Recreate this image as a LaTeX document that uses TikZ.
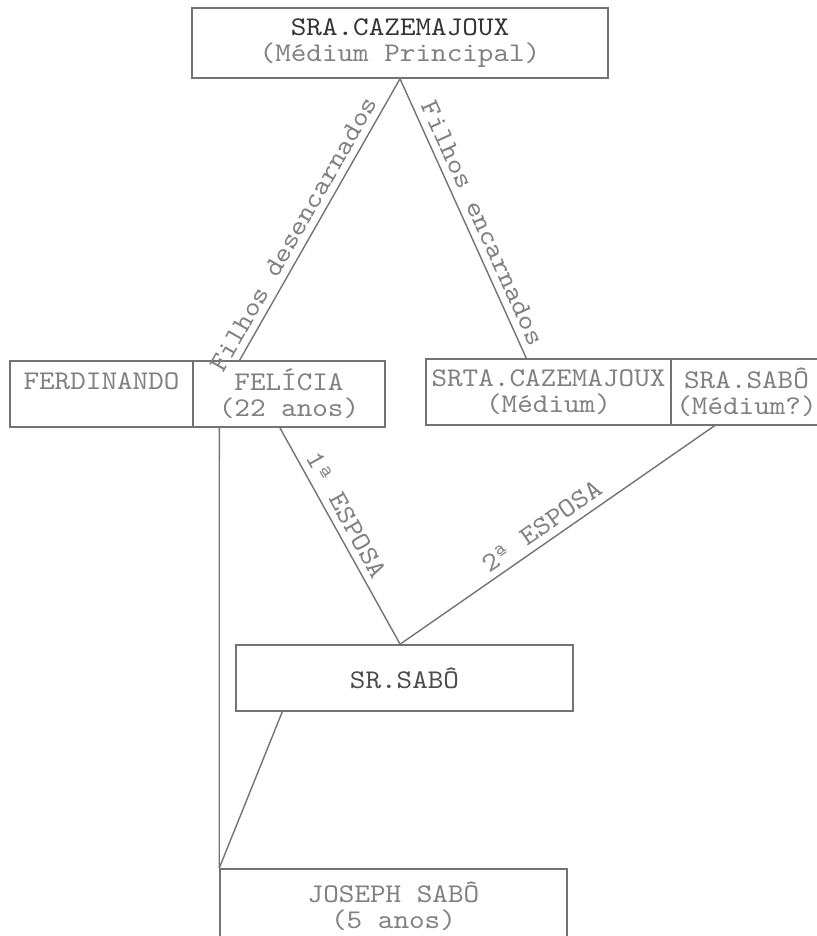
\documentclass[tikz,border=0pt]{standalone}
\usepackage{fontspec}
\setmonofont{lmmono10-regular}[Extension=.otf,FakeStretch=1.1]
\usepackage{tikz}
\usetikzlibrary{positioning}
\usetikzlibrary{calc}
\tikzstyle{pessoa}=[rectangle,draw=black!55,line width=0.8pt,inner sep=0pt,align=center,text=black!50,font=\ttfamily\fontsize{13.5}{13}\selectfont]
\tikzstyle{liga} = [draw=black!55,line width=0.7pt]
\tikzstyle{rotulo} = [font=\ttfamily\fontsize{13.5}{13}\selectfont,text=black!50,sloped,above]

\begin{document}
\begin{tikzpicture}[x=0.5pt,y=-0.5pt]

 \useasboundingbox (0,0) rectangle (817,936);
 \def\u{0.5pt};

 %medium principal
   \foreach \x/\y/\w/\h/\name/\label in {400/43/416/70/top/\textcolor{black!80}{SRA.CAZEMAJOUX}\\(Médium Principal)}
          \node[pessoa,minimum width=\w*\u,minimum height=\h*\u] (\name) at (\x,\y) {\label};

 %filhos
   \foreach \x/\y/\w/\h/\name/\label in {101.5/394/183/66/ferd/FERDINANDO\\{}, 289/394/192/66/feli/FELÍCIA\\(22 anos)}
          \node[pessoa,minimum width=\w*\u,minimum height=\h*\u] (\name) at (\x,\y) {\label};

   \foreach \x/\y/\w/\h/\name/\label in {548.5/392/245/66/srta/SRTA.CAZEMAJOUX\\(Médium), 746.5/392/151/66/srasabo/SRA.SABÔ\\(Médium?)}
          \node[pessoa,minimum width=\w*\u,minimum height=\h*\u] (\name) at (\x,\y) {\label};

 %sabo
   \foreach \x/\y/\w/\h/\name/\label in {404.5/678/337/66/srsabo/\textcolor{black!70}{SR.SABÔ}, 393.5/906/347/74/joseph/JOSEPH SABÔ\\(5 anos)}
          \node[pessoa,minimum width=\w*\u,minimum height=\h*\u] (\name) at (\x,\y) {\label};

 \path[liga] ($(feli.north west)!0.245!(feli.north east)$) -- node[rotulo,pos=0.42] {Filhos desencarnados} (top.south);
 \path[liga] (top.south) -- node[rotulo,pos=0.54] {Filhos encarnados} ($(srta.north west)!0.41!(srta.north east)$);

 \path[liga] ($(feli.south west)!0.14!(feli.south east)$) -- (joseph.north west);
 \path[liga] ($(feli.south west)!0.453!(feli.south east)$) -- node[rotulo,pos=0.44] {1ª ESPOSA} ($(srsabo.north west)!0.487!(srsabo.north east)$);
 \path[liga] ($(srsabo.north west)!0.487!(srsabo.north east)$) -- node[rotulo,pos=0.48] {2ª ESPOSA} ($(srasabo.south west)!0.29!(srasabo.south east)$);
 \path[liga] ($(srsabo.south west)!0.139!(srsabo.south east)$) -- (joseph.north west);

\end{tikzpicture}
\end{document}
